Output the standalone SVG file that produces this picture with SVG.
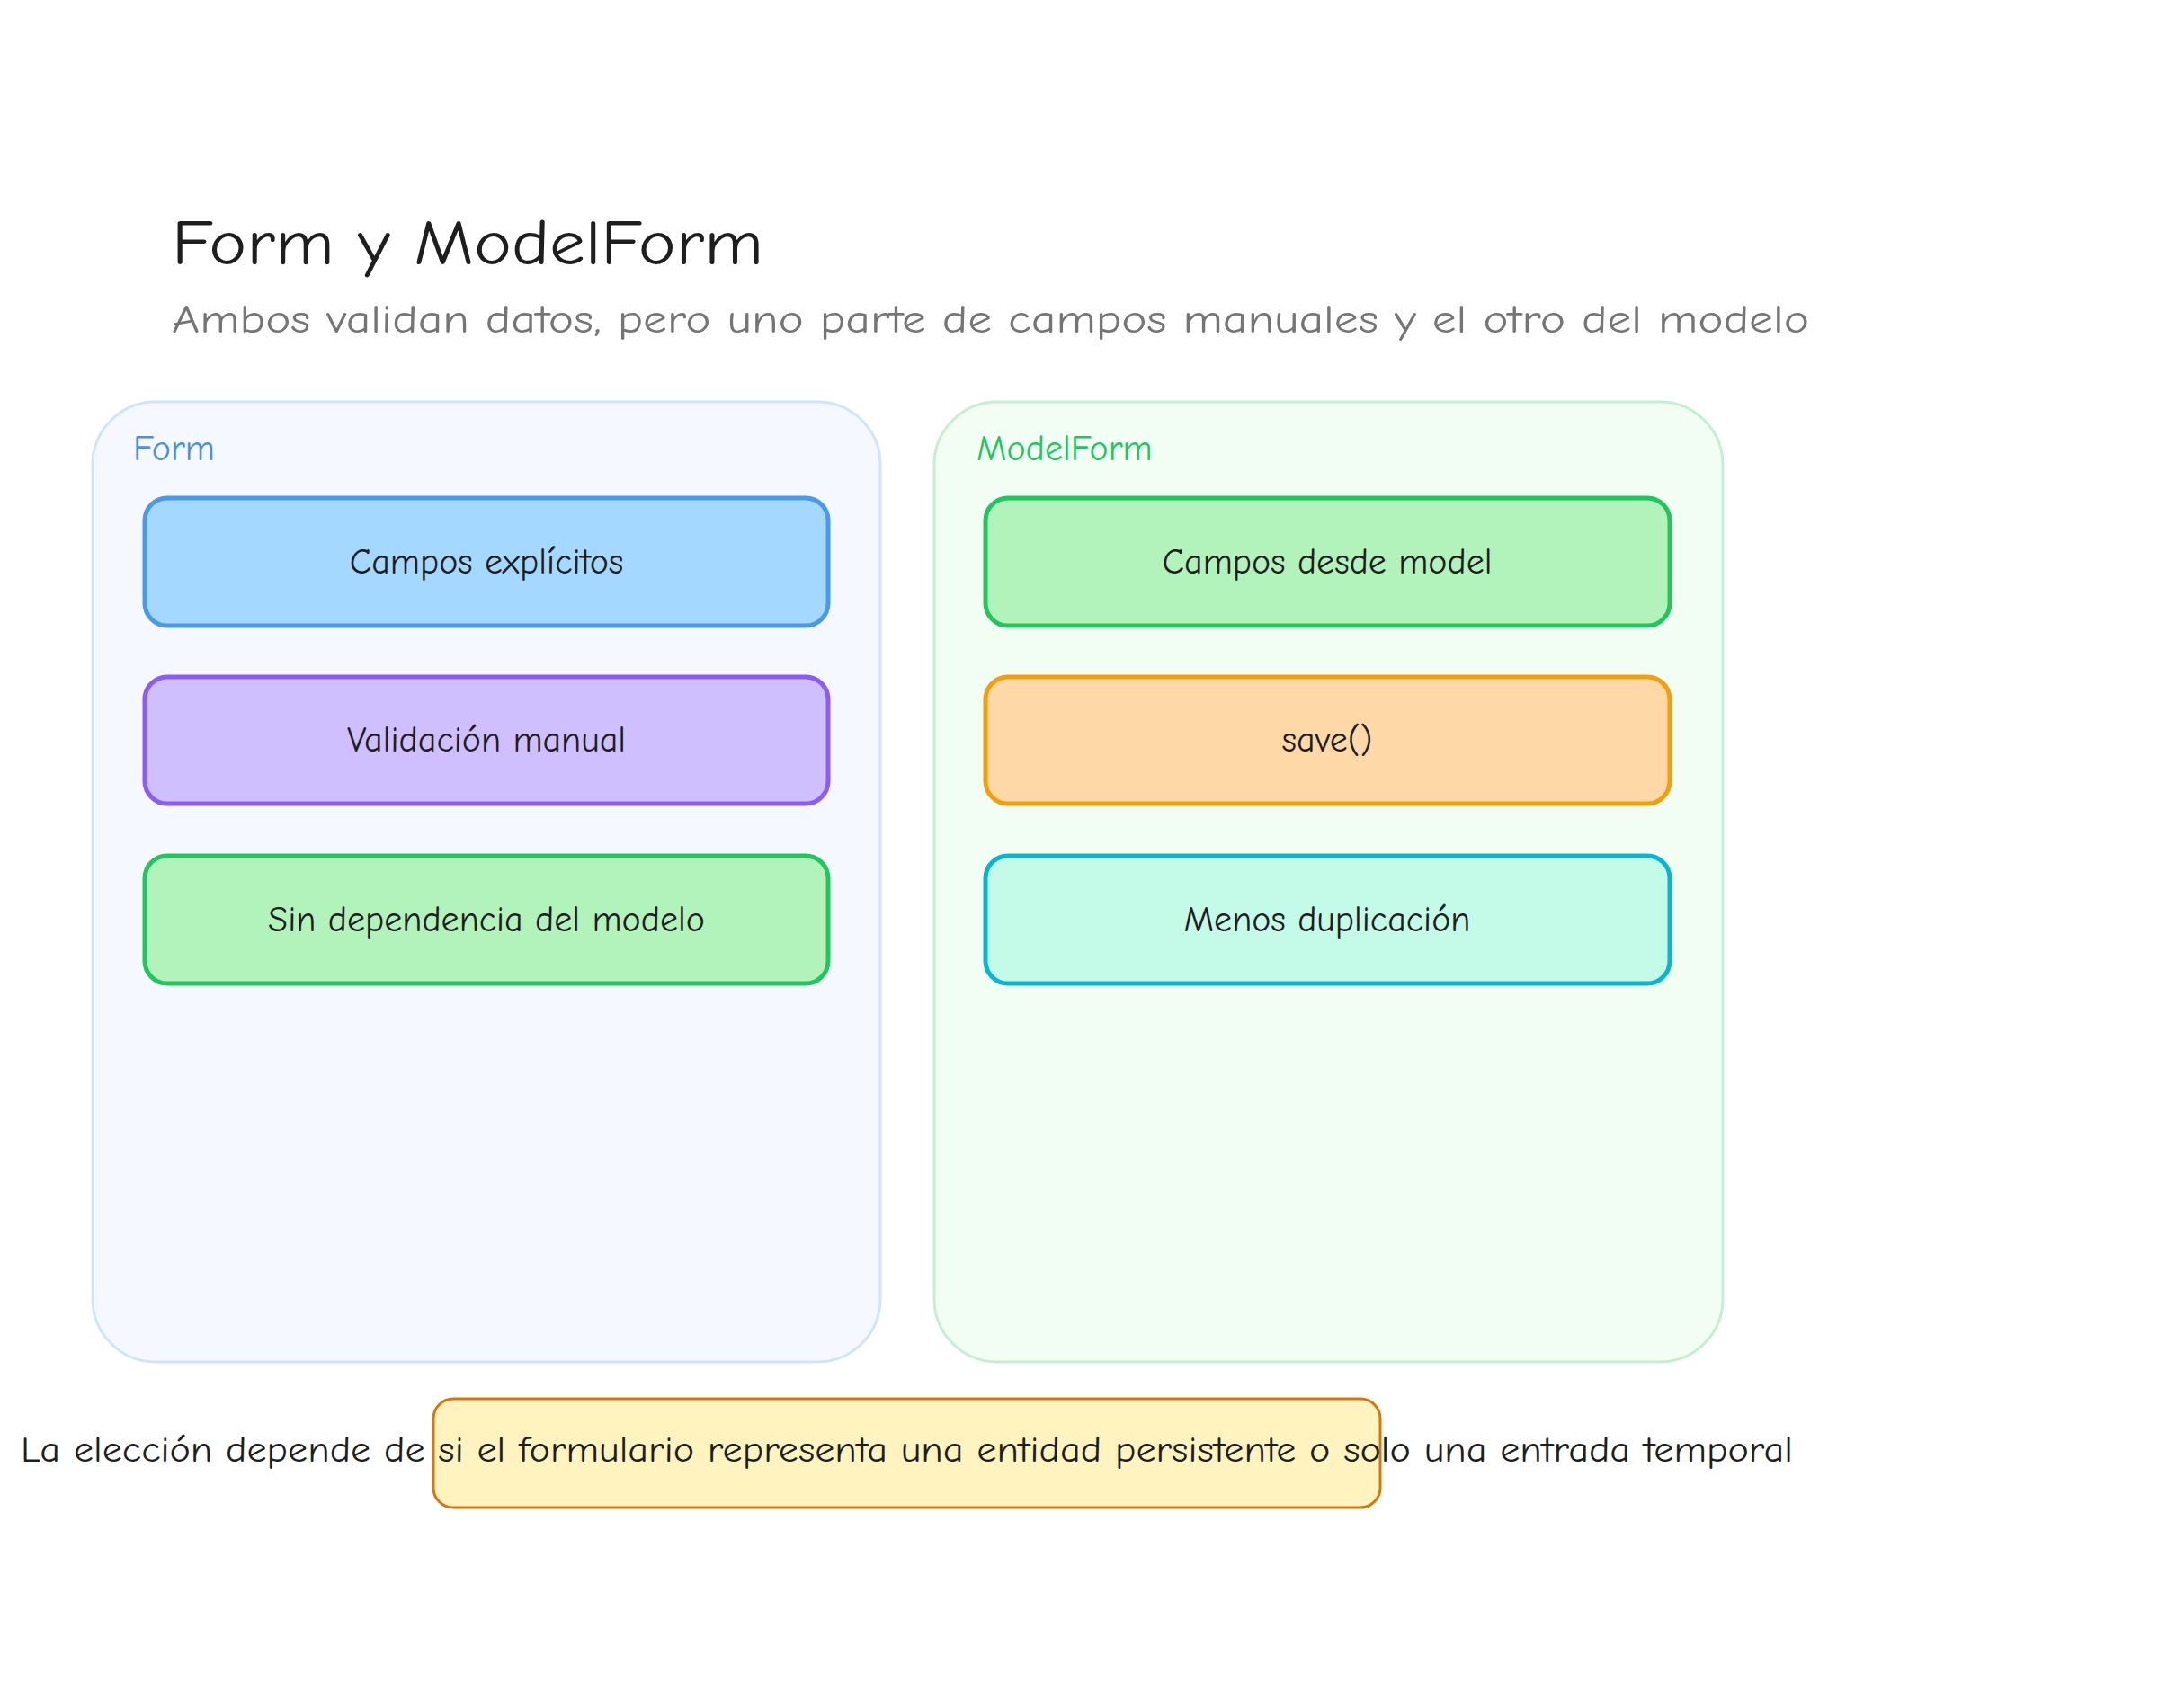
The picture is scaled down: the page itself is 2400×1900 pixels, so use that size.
<svg xmlns="http://www.w3.org/2000/svg" width="2400" height="1900" viewBox="0 0 2400 1900">
<style>
text{font-family:"Comic Neue","Liberation Sans",sans-serif;fill:#1e1e1e}
.box{stroke-width:5}
.bt{font-size:40px;text-anchor:middle;dominant-baseline:central}
</style>
<rect width="2400" height="1900" fill="#ffffff"/>
<g id="title"><text x="191" y="294" font-size="70" textLength="658" lengthAdjust="spacingAndGlyphs">Form y ModelForm</text></g>
<g id="subtitle"><text x="191" y="370" font-size="44" style="fill:#757575" textLength="1821" lengthAdjust="spacingAndGlyphs">Ambos validan datos, pero uno parte de campos manuales y el otro del modelo</text></g>
<g id="form-group">
<rect x="103" y="447" width="876" height="1068" rx="70" fill="#f5f8fe" stroke="#d0e4fa" stroke-width="3"/>
<text x="148" y="512" font-size="40" style="fill:#4a90e2">Form</text>
</g>
<g id="modelform-group">
<rect x="1039" y="447" width="877" height="1068" rx="70" fill="#f2fdf4" stroke="#c5eed2" stroke-width="3"/>
<text x="1086" y="512" font-size="40" style="fill:#22c55e">ModelForm</text>
</g>
<g id="n1"><rect class="box" x="161" y="554" width="760" height="142" rx="25" fill="#a5d8ff" stroke="#4a9ae8"/><text class="bt" x="541" y="625">Campos explícitos</text></g>
<g id="n2"><rect class="box" x="161" y="753" width="760" height="141" rx="25" fill="#d0bfff" stroke="#8b5cf6"/><text class="bt" x="541" y="823">Validación manual</text></g>
<g id="n3"><rect class="box" x="161" y="952" width="760" height="142" rx="25" fill="#b2f2bb" stroke="#22c55e"/><text class="bt" x="541" y="1023">Sin dependencia del modelo</text></g>
<g id="n4"><rect class="box" x="1096" y="554" width="761" height="142" rx="25" fill="#b2f2bb" stroke="#22c55e"/><text class="bt" x="1476" y="625">Campos desde model</text></g>
<g id="n5"><rect class="box" x="1096" y="753" width="761" height="141" rx="25" fill="#ffd8a8" stroke="#f59e0b"/><text class="bt" x="1476" y="823">save()</text></g>
<g id="n6"><rect class="box" x="1096" y="952" width="761" height="142" rx="25" fill="#c3fae8" stroke="#06b6d4"/><text class="bt" x="1476" y="1023">Menos duplicación</text></g>
<g id="note"><rect x="482" y="1556" width="1053" height="121" rx="22" fill="#fff3bf" stroke="#d97706" stroke-width="3"/>
<text x="23" y="1626" font-size="40" textLength="1971" lengthAdjust="spacingAndGlyphs">La elección depende de si el formulario representa una entidad persistente o solo una entrada temporal</text></g>
<g id="connectors"/>
</svg>
